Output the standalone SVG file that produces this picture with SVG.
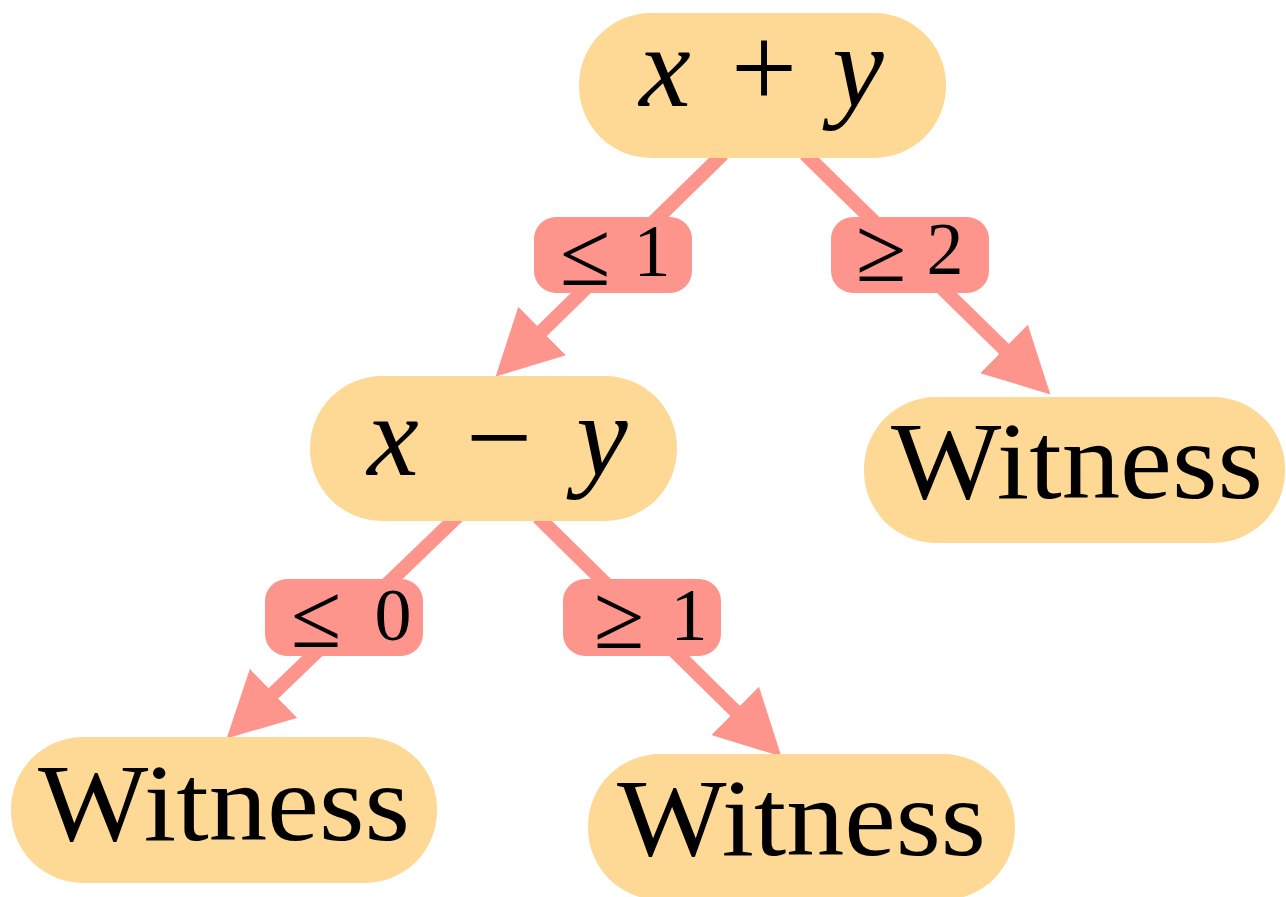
<svg xmlns="http://www.w3.org/2000/svg" width="1286" height="897" viewBox="0 0 1286 897">
  <style>
    .node { fill: #FDD995; }
    .edge { stroke: #FE958C; stroke-width: 14; fill: none; }
    .lbl { fill: #FE958C; }
    .t { font-family: "Liberation Serif", "DejaVu Serif", serif; fill: #000; }
    .m { font-style: italic; font-size: 116px; text-anchor: middle; }
    .op { font-size: 118px; text-anchor: middle; }
    .w { font-size: 110px; }
    .lt { font-size: 74px; text-anchor: middle; }
    .rel { font-size: 92px; }
  </style>
  <defs>
    <marker id="arr" markerUnits="userSpaceOnUse" markerWidth="66" markerHeight="68" refX="8" refY="34" orient="auto" viewBox="0 0 66 68">
      <path d="M0,0 L65,34 L0,68 Z" fill="#FE958C"/>
    </marker>
  </defs>
  <rect width="1286" height="897" fill="#fff"/>
  <g id="connectors">
    <line class="edge" x1="723" y1="154" x2="536.4" y2="336.6" marker-end="url(#arr)"/>
    <line class="edge" x1="805" y1="154" x2="1009.7" y2="354.5" marker-end="url(#arr)"/>
    <line class="edge" x1="458" y1="516" x2="267.7" y2="698.9" marker-end="url(#arr)"/>
    <line class="edge" x1="538" y1="517" x2="740.8" y2="716.5" marker-end="url(#arr)"/>
    <g id="label-le1">
      <rect class="lbl" x="534" y="217" width="158" height="76" rx="22"/>
      <text class="t lt"><tspan class="rel" x="585" y="285">≤</tspan><tspan x="652" y="276">1</tspan></text>
    </g>
    <g id="label-ge2">
      <rect class="lbl" x="831" y="217" width="158" height="76" rx="22"/>
      <text class="t lt"><tspan class="rel" x="881" y="281">≥</tspan><tspan x="945" y="274">2</tspan></text>
    </g>
    <g id="label-le0">
      <rect class="lbl" x="265" y="579" width="158" height="77" rx="22"/>
      <text class="t lt"><tspan class="rel" x="316" y="647">≤</tspan><tspan x="393" y="640">0</tspan></text>
    </g>
    <g id="label-ge1">
      <rect class="lbl" x="563" y="579" width="158" height="77" rx="22"/>
      <text class="t lt"><tspan class="rel" x="619" y="648">≥</tspan><tspan x="689" y="640">1</tspan></text>
    </g>
  </g>
  <g id="node-xplusy">
    <rect class="node" x="579" y="13" width="367" height="145" rx="72"/>
    <text class="t m" x="665" y="106">x</text>
    <text class="t op" x="764" y="108">+</text>
    <text class="t m" x="858" y="106">y</text>
  </g>
  <g id="node-xminusy">
    <rect class="node" x="310" y="376" width="367" height="145" rx="72"/>
    <text class="t m" x="393" y="475">x</text>
    <text class="t op" x="499" y="477">−</text>
    <text class="t m" x="602" y="475">y</text>
  </g>
  <g id="node-witness-right">
    <rect class="node" x="864" y="397" width="421" height="146" rx="72"/>
    <text class="t w" x="891" y="498" textLength="372" lengthAdjust="spacingAndGlyphs">Witness</text>
  </g>
  <g id="node-witness-left">
    <rect class="node" x="11" y="737" width="426" height="146" rx="72"/>
    <text class="t w" x="38" y="840" textLength="372" lengthAdjust="spacingAndGlyphs">Witness</text>
  </g>
  <g id="node-witness-mid">
    <rect class="node" x="588" y="754" width="427" height="146" rx="72"/>
    <text class="t w" x="617" y="855" textLength="369" lengthAdjust="spacingAndGlyphs">Witness</text>
  </g>
</svg>
